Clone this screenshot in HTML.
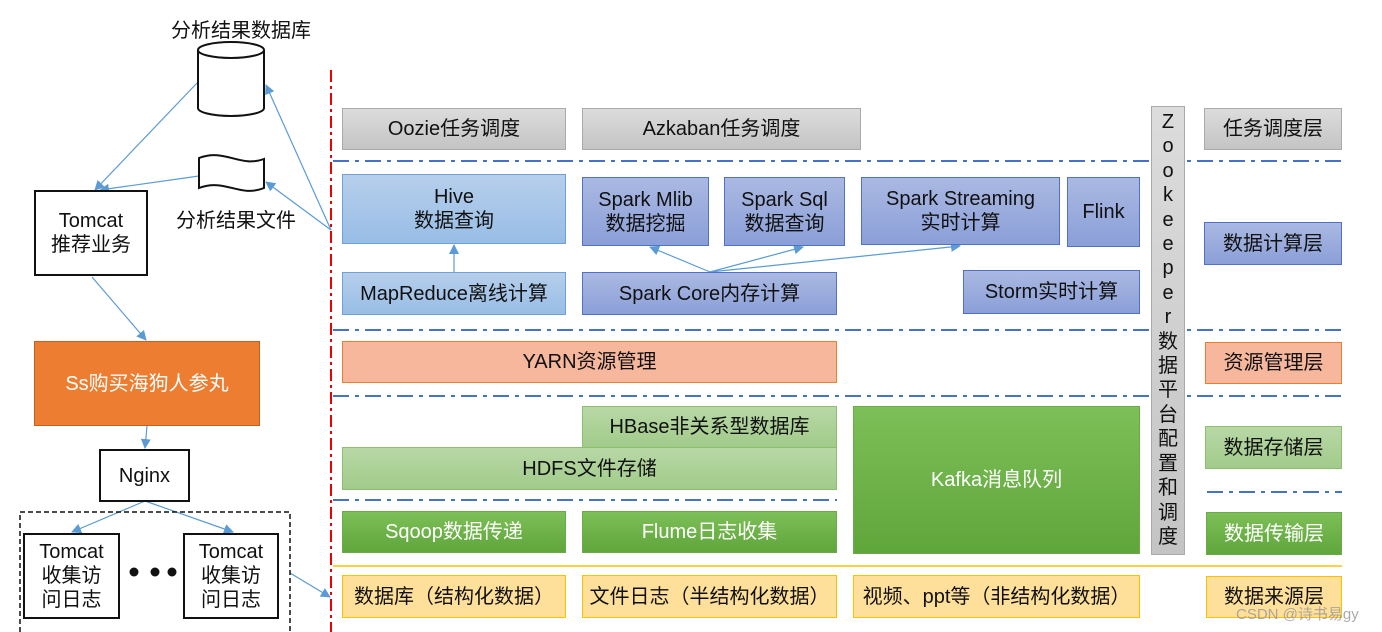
<!DOCTYPE html>
<html><head><meta charset="utf-8"><style>
body{margin:0;width:1382px;height:632px;background:#fff;position:relative;overflow:hidden;font-family:"Liberation Sans","Noto Sans CJK SC",sans-serif;color:#111}
.b{position:absolute;box-sizing:border-box;display:flex;align-items:center;justify-content:center;text-align:center;font-size:20px;line-height:24px}
.gray{background:linear-gradient(#dcdcdc,#c4c4c4);border:1px solid #aaa}
.lb{background:linear-gradient(#b6cfeb,#98bde6);border:1px solid #6fa0d8}
.pb{background:linear-gradient(#aab9e2,#8b9fd8);border:1px solid #4f72c4}
.or{background:#f6b79c;border:1px solid #ed7d31}
.lg{background:linear-gradient(#b8d8a6,#a2cb8b);border:1px solid #8cbf6e}
.dg{background:linear-gradient(#7dbf58,#5fa63b);border:1px solid #6aaa48;color:#fff}
.ye{background:#ffe09a;border:1px solid #ffc000}
.wh{background:#fff;border:2px solid #111}
.t{position:absolute;font-size:20px;white-space:nowrap}
</style></head><body>
<svg width="1382" height="632" style="position:absolute;left:0;top:0">
<defs><marker id="a" markerWidth="10" markerHeight="10" refX="9" refY="5" orient="auto" markerUnits="userSpaceOnUse"><path d="M0,0L10,5L0,10z" fill="#5b9bd5"/></marker></defs>
<g stroke="#5b9bd5" stroke-width="1.2" fill="none" marker-end="url(#a)">
<line x1="197" y1="83" x2="95" y2="190"/>
<line x1="199" y1="176" x2="100" y2="190"/>
<line x1="331" y1="230" x2="266" y2="85"/>
<line x1="331" y1="230" x2="266" y2="182"/>
<line x1="92" y1="277" x2="146" y2="340"/>
<line x1="147" y1="426" x2="145" y2="448"/>
<line x1="145" y1="501" x2="72" y2="532"/>
<line x1="145" y1="501" x2="233" y2="532"/>
<line x1="290" y1="573" x2="330" y2="597"/>
<line x1="454" y1="272" x2="454" y2="245"/>
<line x1="710" y1="272" x2="650" y2="247"/>
<line x1="710" y1="272" x2="803" y2="247"/>
<line x1="710" y1="272" x2="960" y2="246"/>
</g>
<g stroke="#4472c4" stroke-width="2" stroke-dasharray="16,6,4,6">
<line x1="333" y1="161" x2="1342" y2="161"/>
<line x1="333" y1="330" x2="1342" y2="330"/>
<line x1="333" y1="396" x2="1342" y2="396"/>
<line x1="333" y1="500" x2="837" y2="500"/>
<line x1="1207" y1="492" x2="1342" y2="492"/>
</g>
<line x1="333" y1="566" x2="1342" y2="566" stroke="#ffc000" stroke-width="1.5"/>
<line x1="331" y1="70" x2="331" y2="632" stroke="#e00" stroke-width="2" stroke-dasharray="12,4,3,4"/>
<rect x="20" y="512" width="270" height="130" fill="none" stroke="#111" stroke-width="1.5" stroke-dasharray="5,3"/>
<path d="M198,50 L198,108 A33,8 0 0 0 264,108 L264,50" fill="#fff" stroke="#111" stroke-width="2"/>
<ellipse cx="231" cy="50" rx="33" ry="8" fill="#fff" stroke="#111" stroke-width="2"/>
<path d="M199,158 C225,148 240,168 264,159 L264,188 C240,198 225,178 199,188 Z" fill="#fff" stroke="#111" stroke-width="2"/>
<circle cx="134" cy="572" r="4.5" fill="#111"/><circle cx="155" cy="572" r="4.5" fill="#111"/><circle cx="172" cy="572" r="4.5" fill="#111"/>
</svg>
<div class="t" style="left:171px;top:14px">分析结果数据库</div>
<div class="t" style="left:176px;top:204px">分析结果文件</div>
<div class="b wh" style="left:34px;top:190px;width:114px;height:86px">Tomcat<br>推荐业务</div>
<div class="b" style="left:34px;top:341px;width:226px;height:85px;background:#ed7d31;border:1px solid #c65f1d;color:#fff">Ss购买海狗人参丸</div>
<div class="b wh" style="left:99px;top:449px;width:91px;height:53px">Nginx</div>
<div class="b wh" style="left:23px;top:533px;width:97px;height:86px">Tomcat<br>收集访<br>问日志</div>
<div class="b wh" style="left:183px;top:533px;width:96px;height:86px">Tomcat<br>收集访<br>问日志</div>

<div class="b gray" style="left:342px;top:108px;width:224px;height:42px">Oozie任务调度</div>
<div class="b gray" style="left:582px;top:108px;width:279px;height:42px">Azkaban任务调度</div>
<div class="b lb" style="left:342px;top:174px;width:224px;height:70px">Hive<br>数据查询</div>
<div class="b pb" style="left:582px;top:177px;width:127px;height:69px">Spark Mlib<br>数据挖掘</div>
<div class="b pb" style="left:724px;top:177px;width:121px;height:69px">Spark Sql<br>数据查询</div>
<div class="b pb" style="left:861px;top:177px;width:199px;height:68px">Spark Streaming<br>实时计算</div>
<div class="b pb" style="left:1067px;top:177px;width:73px;height:70px">Flink</div>
<div class="b lb" style="left:342px;top:272px;width:224px;height:43px">MapReduce离线计算</div>
<div class="b pb" style="left:582px;top:272px;width:255px;height:43px">Spark Core内存计算</div>
<div class="b pb" style="left:963px;top:270px;width:177px;height:44px">Storm实时计算</div>
<div class="b or" style="left:342px;top:341px;width:495px;height:42px">YARN资源管理</div>
<div class="b lg" style="left:582px;top:406px;width:255px;height:42px">HBase非关系型数据库</div>
<div class="b lg" style="left:342px;top:447px;width:495px;height:43px">HDFS文件存储</div>
<div class="b dg" style="left:853px;top:406px;width:287px;height:148px">Kafka消息队列</div>
<div class="b dg" style="left:342px;top:511px;width:224px;height:42px">Sqoop数据传递</div>
<div class="b dg" style="left:582px;top:511px;width:255px;height:42px">Flume日志收集</div>
<div class="b ye" style="left:342px;top:575px;width:224px;height:43px">数据库（结构化数据）</div>
<div class="b ye" style="left:582px;top:575px;width:255px;height:43px">文件日志（半结构化数据）</div>
<div class="b ye" style="left:853px;top:575px;width:287px;height:43px">视频、ppt等（非结构化数据）</div>

<div class="b gray" style="left:1151px;top:106px;width:34px;height:449px;flex-direction:column;justify-content:flex-start;font-size:20px;line-height:24.4px;padding-top:3px;overflow:hidden">Z<br>o<br>o<br>k<br>e<br>e<br>p<br>e<br>r<br>数<br>据<br>平<br>台<br>配<br>置<br>和<br>调<br>度</div>

<div class="b gray" style="left:1204px;top:108px;width:138px;height:42px">任务调度层</div>
<div class="b pb" style="left:1204px;top:222px;width:138px;height:43px">数据计算层</div>
<div class="b or" style="left:1205px;top:342px;width:137px;height:42px">资源管理层</div>
<div class="b lg" style="left:1205px;top:426px;width:137px;height:43px">数据存储层</div>
<div class="b dg" style="left:1206px;top:512px;width:136px;height:43px">数据传输层</div>
<div class="b ye" style="left:1206px;top:576px;width:136px;height:42px">数据来源层</div>
<div class="t" style="left:1236px;top:603px;font-size:15px;color:rgba(150,150,150,0.8)">CSDN @诗书易gy</div>
</body></html>
